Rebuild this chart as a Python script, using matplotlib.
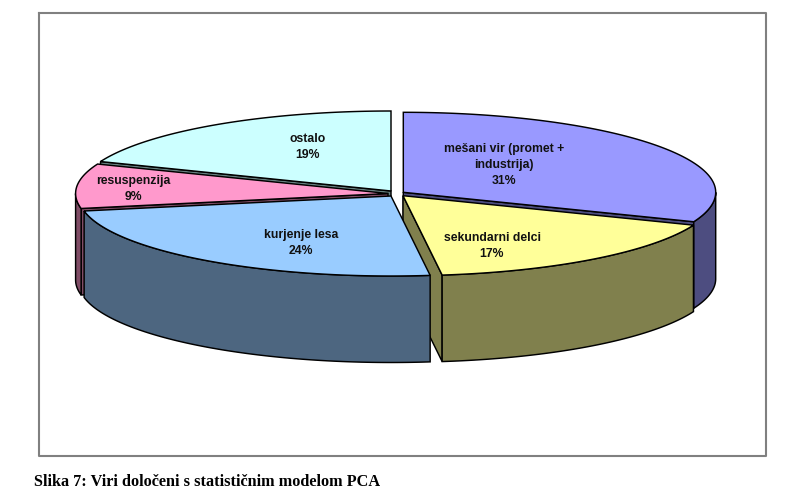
import numpy as np
from matplotlib import pyplot as plt

labels = ['mešani vir (promet +\nindustrija)\n31%', 'sekundarni delci\n17%', 'kurjenje lesa\n24%',
          'resuspenzija\n9%', 'ostalo\n19%']
values = [31, 17, 24, 9, 19]
caption = 'Slika 7: Viri določeni s statističnim modelom PCA'

top_colors = ['#9999FF', '#FFFF99', '#99CCFF', '#FF99CC', '#CCFFFF']
side_colors = ['#4D4D80', '#80804D', '#4D6680', '#804D66', '#668080']

# layout in image pixels
centers = [(403.3, 192.3), (403.0, 195.7), (391.0, 196.0), (388.0, 193.5), (391.0, 191.0)]
label_pos = [(504, 165), (492, 246), (301, 243), (133, 189), (308, 147)]
rx = 312.4
ry = 80.0
depth = 86.5
edge_w = 1.05


def arc(c, t0, t1):
    # angles clockwise from 12 o'clock, in degrees
    n = max(int(abs(t1 - t0)) * 2, 2)
    t = np.radians(np.linspace(t0, t1, n))
    return c[0] + rx * np.sin(t), c[1] - ry * np.cos(t)


def cut_face(ax, c, t, color):
    x, y = arc(c, t, t)
    ax.fill([c[0], x[0], x[0], c[0]], [c[1], y[0], y[0] + depth, c[1] + depth],
            facecolor=color, edgecolor='black', linewidth=edge_w, zorder=2)


fig = plt.figure(figsize=(8.0, 5.01), dpi=100)
ax = fig.add_axes([0, 0, 1, 1])
ax.set_xlim(0, 800)
ax.set_ylim(501, 0)
ax.axis('off')

# chart frame
ax.plot([39, 766, 766, 39, 39], [13, 13, 456, 456, 13], color='#808080', linewidth=1.5, zorder=1)

ends = np.cumsum(values) / sum(values) * 360
starts = np.concatenate(([0], ends[:-1]))

# back slices first, so that the front ones cover them
for i in [4, 3, 0, 1, 2]:
    t0, t1 = starts[i], ends[i]
    c = centers[i]
    if 180 <= t0 < 360:
        cut_face(ax, c, t0, side_colors[i])
    if 0 < t1 < 180:
        cut_face(ax, c, t1, side_colors[i])
    a0, a1 = max(t0, 90), min(t1, 270)
    if a1 > a0:
        x, y = arc(c, a0, a1)
        ax.fill(np.concatenate((x, x[::-1])), np.concatenate((y, y[::-1] + depth)),
                facecolor=side_colors[i], edgecolor='black', linewidth=edge_w, zorder=2)
    x, y = arc(c, t0, t1)
    ax.fill(np.concatenate(([c[0]], x)), np.concatenate(([c[1]], y)),
            facecolor=top_colors[i], edgecolor='black', linewidth=edge_w, zorder=2)

for lab, pos in zip(labels, label_pos):
    ax.text(pos[0], pos[1], lab, ha='center', va='center', family='Liberation Sans',
            fontweight='bold', fontsize=8.8, linespacing=1.42, color='#111111', zorder=3)

ax.text(34, 486, caption, ha='left', va='baseline', family='Liberation Serif',
        fontweight='bold', fontsize=11.72, color='black', zorder=3)

fig.savefig('out.png', dpi=100)
